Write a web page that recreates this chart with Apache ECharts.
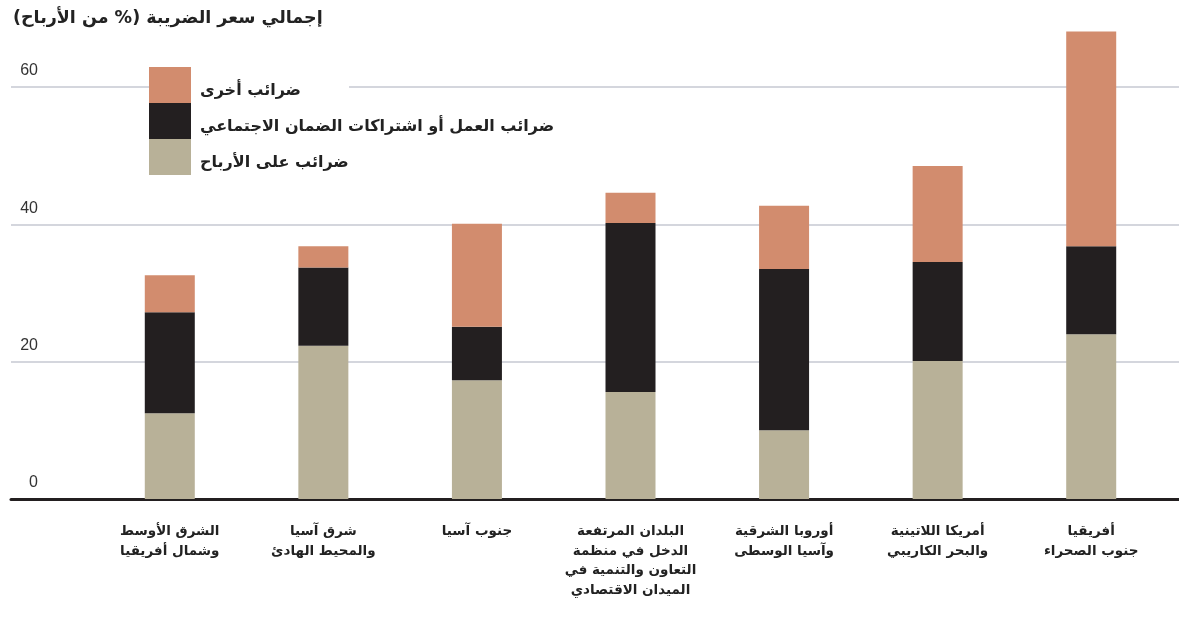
<!DOCTYPE html>
<html>
<head>
<meta charset="utf-8">
<script src="https://cdn.jsdelivr.net/npm/echarts@6/dist/echarts.min.js"></script>
<style>
  html, body { margin: 0; padding: 0; background: #fff; }
  #chart { width: 1179px; height: 619px; direction: rtl; }
</style>
</head>
<body>
<div id="chart"></div>
<script>
// Regions, left to right
const regions = [
  'الشرق الأوسط\nوشمال أفريقيا',
  'شرق آسيا\nوالمحيط الهادئ',
  'جنوب آسيا',
  'البلدان المرتفعة\nالدخل في منظمة\nالتعاون والتنمية في\nالميدان الاقتصادي',
  'أوروبا الشرقية\nوآسيا الوسطى',
  'أمريكا اللاتينية\nوالبحر الكاريبي',
  'أفريقيا\nجنوب الصحراء'
];

// Tax components, % of profits
const profitTax = [12.5, 22.3, 17.3, 15.6, 10.0, 20.1, 24.0];
const labourTax = [14.7, 11.4, 7.8, 24.6, 23.5, 14.4, 12.8];
const otherTax  = [5.4, 3.1, 15.0, 4.4, 9.2, 14.0, 31.3];

const seriesNames = ['ضرائب على الأرباح', 'ضرائب العمل أو اشتراكات الضمان الاجتماعي', 'ضرائب أخرى'];
const colors = ['#b8b198', '#231f20', '#d28c6e'];

const titleText = 'إجمالي سعر الضريبة (% من الأرباح)';
const yTicks = { min: 0, max: 60, interval: 20 };

const arabicFont = "'DejaVu Sans', sans-serif";

// one legend box per series, stacked so the swatches touch
function legendFor(i, top) {
  return {
    data: [seriesNames[i]],
    left: 149,
    top: top,
    orient: 'vertical',
    icon: 'rect',
    itemWidth: 42,
    itemHeight: 36,
    itemGap: 0,
    padding: [0, 48, 0, 0],
    backgroundColor: '#ffffff',
    selectedMode: false,
    formatter: '{t|{name}}',
    textStyle: {
      fontFamily: arabicFont,
      fontWeight: 'bold',
      fontSize: 16,
      color: '#222',
      rich: {
        t: {
          fontFamily: arabicFont,
          fontWeight: 'bold',
          fontSize: 16,
          color: '#222',
          padding: [12, 0, 0, 4]
        }
      }
    }
  };
}

const chart = echarts.init(document.getElementById('chart'), null, { renderer: 'canvas' });

chart.setOption({
  animation: false,
  backgroundColor: '#ffffff',
  title: {
    text: titleText,
    left: 8,
    top: 4,
    textStyle: { fontFamily: arabicFont, fontWeight: 'bold', fontSize: 17.5, color: '#222' }
  },
  legend: [legendFor(2, 67), legendFor(1, 103), legendFor(0, 139)],
  grid: [
    // full-width frame for gridlines, tick labels and baseline
    { left: 11, right: 0, top: 87, bottom: 120 },
    // bar area
    { left: 93, right: 11, top: 87, bottom: 120 }
  ],
  xAxis: [
    {
      gridIndex: 0, type: 'value', min: 0, max: 1,
      axisLine: { show: true, onZero: false, lineStyle: { color: '#231f20', width: 3 } },
      axisTick: { show: false }, axisLabel: { show: false }, splitLine: { show: false }
    },
    {
      gridIndex: 1, type: 'category', data: regions,
      axisLine: { show: false }, axisTick: { show: false },
      axisLabel: {
        interval: 0, margin: 23,
        fontFamily: arabicFont, fontWeight: 'bold', fontSize: 13.5, lineHeight: 19.5, color: '#222'
      }
    }
  ],
  yAxis: [
    {
      gridIndex: 0, type: 'value', min: yTicks.min, max: yTicks.max, interval: yTicks.interval,
      axisLine: { show: false }, axisTick: { show: false },
      splitLine: { show: true, lineStyle: { color: '#c6c9d2', width: 1.5 } },
      axisLabel: {
        inside: true, align: 'right', margin: 27, verticalAlign: 'bottom',
        padding: [0, 0, 8, 0],
        fontFamily: "'Liberation Sans', Arial, sans-serif", fontSize: 16, color: '#333'
      }
    },
    {
      gridIndex: 1, type: 'value', min: yTicks.min, max: yTicks.max, interval: yTicks.interval,
      show: false, splitLine: { show: false }
    }
  ],
  series: [profitTax, labourTax, otherTax].map((vals, i) => ({
    name: seriesNames[i],
    type: 'bar',
    stack: 'tax',
    xAxisIndex: 1,
    yAxisIndex: 1,
    barWidth: 50,
    clip: false,
    itemStyle: { color: colors[i] },
    data: vals
  }))
});
</script>
</body>
</html>
